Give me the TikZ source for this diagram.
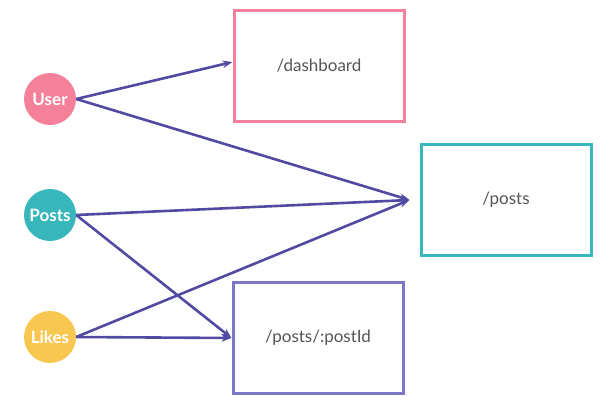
\documentclass[tikz,border=0pt]{standalone}
\usepackage{fontspec}
\setmainfont{Lato}
\usepackage{tikz}
\usetikzlibrary{arrows.meta,positioning}
\definecolor{colUser}{HTML}{F5809A}
\definecolor{colPosts}{HTML}{37B6BC}
\definecolor{colLikes}{HTML}{F8C750}
\definecolor{colRoute}{HTML}{7D76C9}
\definecolor{colArr}{HTML}{5249A2}
\definecolor{colText}{HTML}{555555}

\begin{document}
\begin{tikzpicture}[x=1pt, y=-1pt,
  src/.style={circle, minimum size=52pt, inner sep=0pt, text=white,
              font=\bfseries\fontsize{17}{19}\selectfont},
  route/.style={draw, line width=3pt, fill=white, minimum width=170pt,
                minimum height=111pt, text=colText,
                font=\fontsize{17}{20}\selectfont},
  arr/.style={-{Stealth[length=10pt, width=7.5pt]}, line width=2.6pt, draw=colArr}
]
  \useasboundingbox (0,0) rectangle (615,409);
  % sources
  \node[src, fill=colUser]  (user)  at (50,99)  {User};
  \node[src, fill=colPosts] (posts) at (50,215) {Posts};
  \node[src, fill=colLikes] (likes) at (50,337) {Likes};
  % routes
  \node[route, draw=colUser]  (dash) at (319,66)  {/dashboard};
  \node[route, draw=colPosts] (list) at (506,200) {/posts};
  \node[route, draw=colRoute] (pid)  at (318,338) {/posts/:postId};
  \coordinate[left=10pt of list.west] (listin);
  % connections
  \draw[arr] (user.east)  -- ([yshift=4pt]dash.west);
  \draw[arr] (user.east)  -- (listin);
  \draw[arr] (posts.east) -- (listin);
  \draw[arr] (posts.east) -- (pid.west);
  \draw[arr] (likes.east) -- (listin);
  \draw[arr] (likes.east) -- (pid.west);
\end{tikzpicture}
\end{document}
